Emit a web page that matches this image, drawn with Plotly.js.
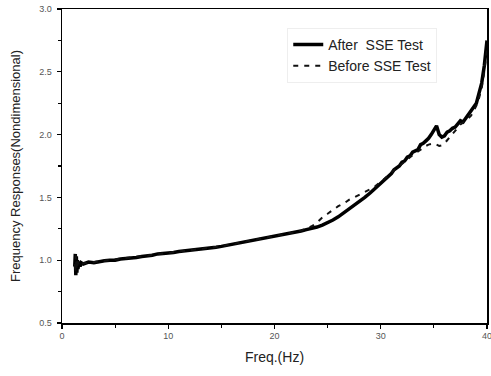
<!DOCTYPE html>
<html><head><meta charset="utf-8">
<script src="https://cdn.plot.ly/plotly-3.0.1.min.js"></script>
<style>html,body{margin:0;padding:0;background:#fff;}#chart{width:491px;height:376px;}</style>
</head><body><div id="chart"></div>
<script>
const freq = [1.2,1.25,1.3,1.35,1.4,1.45,1.5,1.6,1.7,1.8,2,2.5,3,3.5,4,4.5,5,5.5,6,6.5,7,7.5,8,8.5,9,9.5,10,10.5,11,11.5,12,12.5,13,13.5,14,14.5,15,15.5,16,16.5,17,17.5,18,18.5,19,19.5,20,20.5,21,21.5,22,22.5,23,23.5,24,24.5,25,25.5,26,26.5,27,27.5,28,28.5,29,29.5,29.75,30,30.25,30.5,30.75,31,31.25,31.5,31.75,32,32.25,32.5,32.75,33,33.25,33.5,33.75,34,34.25,34.5,34.75,35,35.25,35.5,35.75,36,36.25,36.5,36.75,37,37.25,37.5,37.75,38,38.25,38.5,38.75,39,39.25,39.5,39.75,40];
const afterSSE = [0.95,1.05,0.88,1.03,0.90,1.00,0.93,0.99,0.95,0.98,0.97,0.985,0.98,0.99,0.995,1.0,1.0,1.01,1.012,1.02,1.022,1.03,1.034,1.04,1.05,1.052,1.06,1.062,1.07,1.074,1.08,1.083,1.09,1.094,1.10,1.104,1.11,1.118,1.124,1.133,1.14,1.148,1.155,1.163,1.17,1.178,1.188,1.196,1.204,1.214,1.222,1.232,1.243,1.252,1.264,1.28,1.297,1.32,1.345,1.375,1.405,1.435,1.465,1.50,1.535,1.575,1.59,1.61,1.635,1.65,1.675,1.69,1.72,1.735,1.75,1.78,1.79,1.82,1.83,1.86,1.87,1.88,1.92,1.93,1.95,1.97,2.0,2.03,2.07,2.0,1.98,1.99,2.02,2.03,2.05,2.06,2.09,2.11,2.10,2.13,2.16,2.19,2.21,2.25,2.33,2.41,2.55,2.75];
const beforeSSE = [0.97,0.90,1.04,0.92,1.01,0.94,0.99,0.96,0.98,0.97,0.975,0.98,0.985,0.99,0.995,1.0,1.005,1.01,1.015,1.02,1.025,1.03,1.035,1.042,1.048,1.055,1.06,1.065,1.07,1.076,1.08,1.085,1.09,1.096,1.10,1.106,1.112,1.12,1.126,1.134,1.142,1.15,1.157,1.165,1.172,1.18,1.19,1.198,1.206,1.215,1.225,1.236,1.25,1.27,1.30,1.34,1.37,1.40,1.43,1.45,1.48,1.50,1.52,1.545,1.565,1.59,1.61,1.625,1.64,1.66,1.68,1.70,1.72,1.735,1.75,1.765,1.785,1.80,1.82,1.835,1.85,1.87,1.885,1.90,1.91,1.92,1.925,1.93,1.92,1.91,1.915,1.93,1.955,1.98,2.005,2.03,2.055,2.08,2.095,2.11,2.13,2.15,2.19,2.23,2.29,2.37,2.50,2.68];
const seriesNames = ["After  SSE Test", "Before SSE Test"];
const xTicks = [0,10,20,30,40];
const yTicks = [0.5,1.0,1.5,2.0,2.5,3.0];

const traces = [
  {x: freq, y: afterSSE, name: seriesNames[0], type: 'scatter', mode: 'lines',
   line: {color: '#000', width: 3.5}},
  {x: freq, y: beforeSSE, name: seriesNames[1], type: 'scatter', mode: 'lines',
   line: {color: '#111', width: 2, dash: '5px,6px'}}
];
const fam = 'Liberation Sans, Arial, sans-serif';
const tickFont = {family: fam, size: 9, color: '#555'};
const layout = {
  width: 491, height: 376,
  margin: {l: 62, r: 4, t: 9, b: 53},
  paper_bgcolor: '#fff', plot_bgcolor: '#fff',
  showlegend: true,
  legend: {x: 0.53, y: 0.94, xanchor: 'left', yanchor: 'top',
    bgcolor: 'rgba(255,255,255,0)', bordercolor: '#eeeeee', borderwidth: 1,
    font: {family: fam, size: 14, color: '#222'},
    tracegroupgap: 0},
  xaxis: {range: [0, 40], tickvals: xTicks, ticktext: xTicks.map(String),
    ticks: 'outside', ticklen: 4, tickwidth: 1.2, tickcolor: '#000',
    minor: {dtick: 5, ticks: 'outside', ticklen: 3, tickcolor: '#000'},
    showline: true, linecolor: '#000', linewidth: 1.5, mirror: true,
    ticklabeloverflow: 'allow',
    showgrid: false, zeroline: false, tickfont: tickFont,
    title: {text: 'Freq.(Hz)', standoff: 12, font: {family: fam, size: 14, color: '#222'}}},
  yaxis: {range: [0.5, 3.0], tickvals: yTicks, ticktext: yTicks.map(v => v.toFixed(1)),
    ticks: 'outside', ticklen: 4, tickwidth: 1.2, tickcolor: '#000',
    minor: {dtick: 0.25, ticks: 'outside', ticklen: 3, tickcolor: '#000'},
    showline: true, linecolor: '#000', linewidth: 1.5, mirror: true,
    ticklabelstandoff: 3,
    showgrid: false, zeroline: false, tickfont: tickFont,
    title: {text: 'Frequency Responses(Nondimensional)', standoff: 15, font: {family: fam, size: 13, color: '#222'}}}
};
Plotly.newPlot('chart', traces, layout, {displayModeBar: false, staticPlot: true});
</script></body></html>
